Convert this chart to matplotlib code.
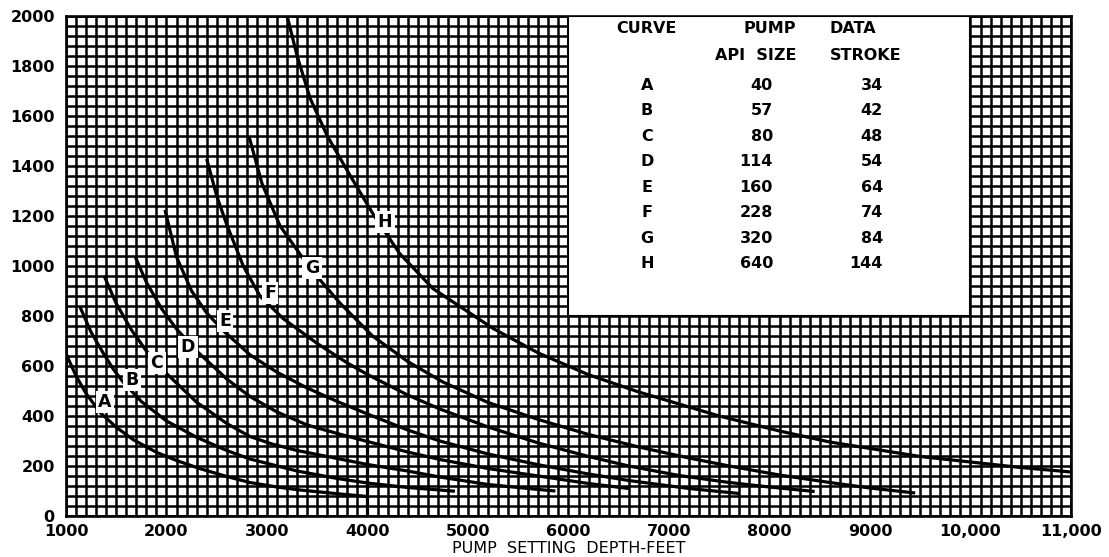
import matplotlib
matplotlib.use("Agg")
import matplotlib.pyplot as plt
from matplotlib.patches import Rectangle
import numpy as np

# pump curves: depth (ft) and rate
curve_names = ["A", "B", "C", "D", "E", "F", "G", "H"]

depth_a = [1000, 1100, 1200, 1340, 1500, 1670, 1900, 2100, 2330, 2600, 2830,
           3100, 3330, 3730, 4000]
rate_a = [650, 560, 490, 414, 355, 305, 255, 222, 190, 158, 134,
          116, 104, 88, 78]

depth_b = [1140, 1250, 1370, 1470, 1570, 1750, 2000, 2300, 2600, 2830, 3300,
           3700, 4000, 4400, 4720, 4870]
rate_b = [836, 735, 652, 588, 535, 458, 380, 315, 262, 228, 180,
          150, 132, 114, 104, 99]

depth_c = [1380, 1500, 1650, 1800, 2000, 2300, 2600, 2830, 3050, 3300, 3700,
           4000, 4400, 4720, 5200, 5600, 5870]
rate_c = [960, 850, 745, 660, 570, 455, 370, 318, 288, 262, 230,
          206, 180, 156, 126, 110, 100]

depth_d = [1690, 1800, 1950, 2100, 2300, 2600, 2830, 3100, 3400, 3700, 4000,
           4400, 4720, 5200, 5700, 6200, 6600]
rate_d = [1036, 935, 830, 748, 660, 548, 478, 416, 364, 330, 298,
          256, 226, 190, 160, 130, 110]

depth_e = [1985, 2100, 2250, 2400, 2582, 2830, 3100, 3400, 3700, 4000, 4400,
           4720, 5200, 5700, 6200, 6600, 7200, 7700]
rate_e = [1224, 1036, 900, 812, 735, 645, 575, 512, 458, 408, 344,
          300, 248, 205, 168, 142, 110, 90]

depth_f = [2400, 2500, 2600, 2764, 2930, 3160, 3500, 3800, 4000, 4400, 4720,
           5200, 5700, 6200, 6600, 7100, 7600, 8000, 8450]
rate_f = [1428, 1280, 1165, 1000, 880, 790, 690, 612, 566, 484, 428,
          356, 292, 238, 200, 162, 134, 116, 98]

depth_g = [2820, 2950, 3130, 3430, 3730, 4050, 4400, 4750, 5200, 5700, 6200,
           6700, 7200, 7600, 8100, 8600, 9000, 9450]
rate_g = [1520, 1330, 1160, 990, 850, 720, 618, 536, 454, 386, 326,
          276, 232, 200, 164, 134, 112, 92]

depth_h = [3200, 3300, 3430, 3600, 3830, 4060, 4320, 4650, 5250, 5700, 6200,
           6700, 7500, 8100, 8600, 9500, 10500, 11000]
rate_h = [2000, 1840, 1670, 1520, 1360, 1205, 1050, 910, 750, 652, 565,
          496, 400, 340, 296, 238, 194, 176]

curve_depths = [depth_a, depth_b, depth_c, depth_d, depth_e, depth_f, depth_g, depth_h]
curve_rates = [rate_a, rate_b, rate_c, rate_d, rate_e, rate_f, rate_g, rate_h]

# where each letter sits next to its curve
label_depth = [1388, 1657, 1905, 2214, 2582, 3030, 3448, 4174]
label_rate = [456, 544, 612, 676, 780, 892, 992, 1176]

# pump data table
api_size = ["40", "57", "80", "114", "160", "228", "320", "640"]
stroke = ["34", "42", "48", "54", "64", "74", "84", "144"]

# vertical reference line at 4000 ft
marker_depth = 4000
marker_top = 955

x_ticks = [1000, 2000, 3000, 4000, 5000, 6000, 7000, 8000, 9000, 10000, 11000]
x_tick_labels = ["1000", "2000", "3000", "4000", "5000", "6000", "7000",
                 "8000", "9000", "10,000", "11,000"]
y_ticks = [0, 200, 400, 600, 800, 1000, 1200, 1400, 1600, 1800, 2000]

fig = plt.figure(figsize=(11.09, 5.57), dpi=100)
ax = fig.add_axes([0.0595, 0.0736, 0.9062, 0.8977])

ax.set_xlim(1000, 11000)
ax.set_ylim(0, 2000)

# graph paper grid
ax.set_xticks(np.arange(1000, 11001, 100), minor=True)
ax.set_yticks(np.arange(0, 2001, 40), minor=True)
ax.grid(which="minor", color="black", linewidth=1.8)
ax.grid(which="major", color="black", linewidth=1.8)
ax.set_axisbelow(True)
for s in ax.spines.values():
    s.set_linewidth(1.9)

ax.set_xticks(x_ticks)
ax.set_xticklabels(x_tick_labels)
ax.set_yticks(y_ticks)
ax.tick_params(which="both", length=0)
ax.tick_params(axis="y", pad=8, labelsize=11.5)
ax.tick_params(axis="x", pad=6, labelsize=11.5)
for t in ax.get_xticklabels() + ax.get_yticklabels():
    t.set_fontweight("bold")

ax.set_xlabel("PUMP  SETTING  DEPTH-FEET", fontsize=11.5, labelpad=1)

# white box for the table
ax.add_patch(Rectangle((6000, 800), 4000, 1200, facecolor="white",
                       edgecolor="black", linewidth=1.5, zorder=3))

for depths, rates in zip(curve_depths, curve_rates):
    ax.plot(depths, rates, color="black", linewidth=2.3, zorder=4,
            solid_capstyle="butt", solid_joinstyle="round")

ax.plot([marker_depth, marker_depth], [0, marker_top], color="black",
        linewidth=2.3, zorder=4)

for name, lx, ly in zip(curve_names, label_depth, label_rate):
    ax.text(lx, ly, name, ha="center", va="center", fontsize=12.5,
            fontweight="bold", zorder=5,
            bbox=dict(facecolor="white", edgecolor="none", pad=1.8))

# table text
head = dict(fontsize=11.5, fontweight="bold", zorder=6, va="center")
ax.text(6780, 1950, "CURVE", ha="center", **head)
ax.text(8000, 1950, "PUMP", ha="center", **head)
ax.text(8600, 1950, "DATA", ha="left", **head)
ax.text(7860, 1840, "API  SIZE", ha="center", **head)
ax.text(8600, 1840, "STROKE", ha="left", **head)
for i in range(len(curve_names)):
    ry = 1722 - 102 * i
    ax.text(6780, ry, curve_names[i], ha="center", **head)
    ax.text(8035, ry, api_size[i], ha="right", **head)
    ax.text(9130, ry, stroke[i], ha="right", **head)

fig.savefig("out.png", dpi=100)
